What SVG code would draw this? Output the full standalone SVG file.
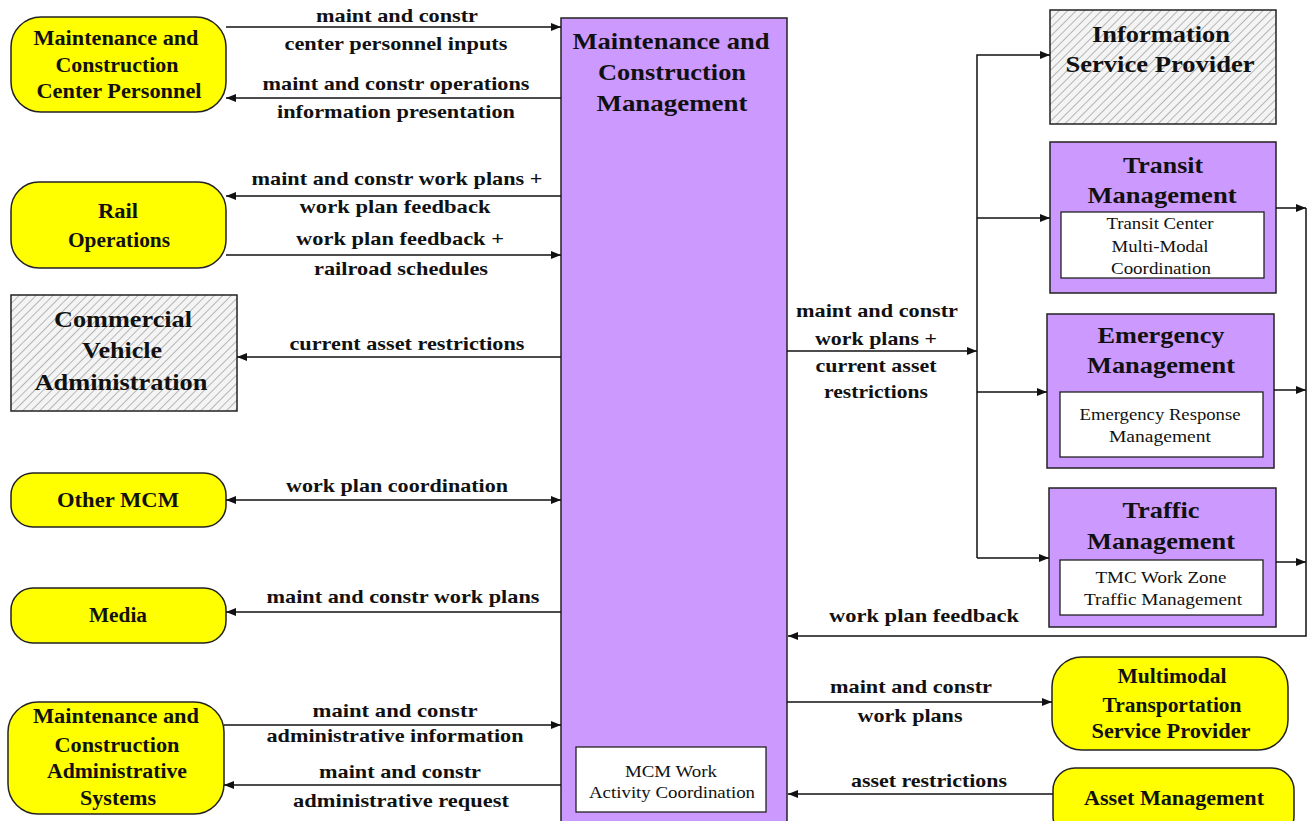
<svg xmlns="http://www.w3.org/2000/svg" width="1307" height="821" viewBox="0 0 1307 821" font-family="'Liberation Serif', 'DejaVu Serif', serif">
<defs>
<pattern id="hatch" width="6" height="6" patternUnits="userSpaceOnUse" patternTransform="rotate(45)">
<rect width="6" height="6" fill="#f4f4f4"/>
<line x1="0" y1="0" x2="0" y2="6" stroke="#9a9a9a" stroke-width="1.4"/>
</pattern>
<marker id="arr" viewBox="0 0 10 10" refX="10" refY="5" markerWidth="10" markerHeight="10" markerUnits="userSpaceOnUse" orient="auto-start-reverse">
<path d="M0,1 L10,5 L0,9 Z" fill="#111"/>
</marker>
<style>
.y{fill:#ffff00;stroke:#222;stroke-width:1.5}
.p{fill:#cc99ff;stroke:#222;stroke-width:1.5}
.h{fill:url(#hatch);stroke:#222;stroke-width:1.5}
.w{fill:#fff;stroke:#222;stroke-width:1.3}
text{font-family:'Liberation Serif','DejaVu Serif',serif;fill:#111;text-anchor:middle}
.t{font-weight:bold}
.n{font-size:20px}
.b{font-size:24px}
.s{font-size:16px}
.l{font-weight:bold;font-size:19px}
.c{fill:none;stroke:#111;stroke-width:1.5}
</style>
</defs>
<rect width="1307" height="821" fill="#fff"/>

<g id="mcm">
<rect class="p" x="561" y="18" width="226" height="810"/>
<text class="t" font-size="23" x="671" y="49" textLength="197" lengthAdjust="spacingAndGlyphs">Maintenance and</text>
<text class="t" font-size="23" x="672" y="80" textLength="148" lengthAdjust="spacingAndGlyphs">Construction</text>
<text class="t" font-size="23" x="672" y="111" textLength="151" lengthAdjust="spacingAndGlyphs">Management</text>
<rect class="w" x="576" y="747" width="190" height="65"/>
<text class="s" x="671" y="777" textLength="92" lengthAdjust="spacingAndGlyphs">MCM Work</text>
<text class="s" x="672" y="798" textLength="166" lengthAdjust="spacingAndGlyphs">Activity Coordination</text>
</g>

<g id="mccp">
<rect class="y" x="11" y="17" width="215" height="95" rx="30"/>
<text class="t n" x="116" y="45" textLength="165" lengthAdjust="spacingAndGlyphs">Maintenance and</text>
<text class="t n" x="117" y="72" textLength="123" lengthAdjust="spacingAndGlyphs">Construction</text>
<text class="t n" x="119" y="98" textLength="165" lengthAdjust="spacingAndGlyphs">Center Personnel</text>
</g>
<g id="rail">
<rect class="y" x="11" y="182" width="215" height="86" rx="28"/>
<text class="t n" x="118" y="218" textLength="40" lengthAdjust="spacingAndGlyphs">Rail</text>
<text class="t n" x="119" y="247" textLength="102" lengthAdjust="spacingAndGlyphs">Operations</text>
</g>
<g id="cva">
<rect class="h" x="11" y="295" width="226" height="116"/>
<text class="t b" x="123" y="327" textLength="138" lengthAdjust="spacingAndGlyphs">Commercial</text>
<text class="t b" x="122" y="358" textLength="80" lengthAdjust="spacingAndGlyphs">Vehicle</text>
<text class="t b" x="121" y="390" textLength="173" lengthAdjust="spacingAndGlyphs">Administration</text>
</g>
<g id="othermcm">
<rect class="y" x="11" y="473" width="215" height="54" rx="22"/>
<text class="t n" x="118" y="507" textLength="122" lengthAdjust="spacingAndGlyphs">Other MCM</text>
</g>
<g id="media">
<rect class="y" x="11" y="588" width="215" height="55" rx="22"/>
<text class="t n" x="118" y="622" textLength="58" lengthAdjust="spacingAndGlyphs">Media</text>
</g>
<g id="mcas">
<rect class="y" x="8" y="702" width="216" height="112" rx="30"/>
<text class="t n" x="116" y="723" textLength="166" lengthAdjust="spacingAndGlyphs">Maintenance and</text>
<text class="t n" x="117" y="752" textLength="125" lengthAdjust="spacingAndGlyphs">Construction</text>
<text class="t n" x="117" y="778" textLength="140" lengthAdjust="spacingAndGlyphs">Administrative</text>
<text class="t n" x="118" y="805" textLength="76" lengthAdjust="spacingAndGlyphs">Systems</text>
</g>

<g id="isp">
<rect class="h" x="1050" y="10" width="226" height="114"/>
<text class="t b" x="1161" y="42" textLength="138" lengthAdjust="spacingAndGlyphs">Information</text>
<text class="t b" x="1160" y="72" textLength="189" lengthAdjust="spacingAndGlyphs">Service Provider</text>
</g>
<g id="transit">
<rect class="p" x="1050" y="142" width="226" height="151"/>
<text class="t b" x="1163" y="173" textLength="80" lengthAdjust="spacingAndGlyphs">Transit</text>
<text class="t b" x="1162" y="203" textLength="149" lengthAdjust="spacingAndGlyphs">Management</text>
<rect class="w" x="1061" y="212" width="203" height="66"/>
<text class="s" x="1160" y="229" textLength="107" lengthAdjust="spacingAndGlyphs">Transit Center</text>
<text class="s" x="1160" y="252" textLength="97" lengthAdjust="spacingAndGlyphs">Multi-Modal</text>
<text class="s" x="1161" y="274" textLength="100" lengthAdjust="spacingAndGlyphs">Coordination</text>
</g>
<g id="emergency">
<rect class="p" x="1047" y="314" width="227" height="154"/>
<text class="t b" x="1161" y="343" textLength="127" lengthAdjust="spacingAndGlyphs">Emergency</text>
<text class="t b" x="1161" y="373" textLength="148" lengthAdjust="spacingAndGlyphs">Management</text>
<rect class="w" x="1060" y="392" width="203" height="65"/>
<text class="s" x="1160" y="420" textLength="161" lengthAdjust="spacingAndGlyphs">Emergency Response</text>
<text class="s" x="1160" y="442" textLength="102" lengthAdjust="spacingAndGlyphs">Management</text>
</g>
<g id="traffic">
<rect class="p" x="1049" y="488" width="227" height="139"/>
<text class="t b" x="1161" y="518" textLength="77" lengthAdjust="spacingAndGlyphs">Traffic</text>
<text class="t b" x="1161" y="549" textLength="148" lengthAdjust="spacingAndGlyphs">Management</text>
<rect class="w" x="1060" y="560" width="203" height="55"/>
<text class="s" x="1161" y="583" textLength="131" lengthAdjust="spacingAndGlyphs">TMC Work Zone</text>
<text class="s" x="1163" y="605" textLength="158" lengthAdjust="spacingAndGlyphs">Traffic Management</text>
</g>
<g id="mtsp">
<rect class="y" x="1052" y="657" width="236" height="93" rx="30"/>
<text class="t n" x="1172" y="683" textLength="109" lengthAdjust="spacingAndGlyphs">Multimodal</text>
<text class="t n" x="1172" y="712" textLength="139" lengthAdjust="spacingAndGlyphs">Transportation</text>
<text class="t n" x="1171" y="738" textLength="159" lengthAdjust="spacingAndGlyphs">Service Provider</text>
</g>
<g id="asset">
<rect class="y" x="1053" y="768" width="241" height="70" rx="22"/>
<text class="t n" x="1174" y="805" textLength="180" lengthAdjust="spacingAndGlyphs">Asset Management</text>
</g>

<g id="connectors">
<line class="c" x1="226" y1="27" x2="561" y2="27" marker-end="url(#arr)"/>
<line class="c" x1="561" y1="98" x2="226" y2="98" marker-end="url(#arr)"/>
<line class="c" x1="561" y1="196" x2="226" y2="196" marker-end="url(#arr)"/>
<line class="c" x1="226" y1="255" x2="561" y2="255" marker-end="url(#arr)"/>
<line class="c" x1="561" y1="357" x2="237" y2="357" marker-end="url(#arr)"/>
<line class="c" x1="226" y1="500" x2="561" y2="500" marker-start="url(#arr)" marker-end="url(#arr)"/>
<line class="c" x1="561" y1="612" x2="226" y2="612" marker-end="url(#arr)"/>
<line class="c" x1="224" y1="725" x2="561" y2="725" marker-end="url(#arr)"/>
<line class="c" x1="561" y1="785" x2="224" y2="785" marker-end="url(#arr)"/>
<line class="c" x1="787" y1="351" x2="977" y2="351" marker-end="url(#arr)"/>
<polyline class="c" points="977,558 977,55 1050,55" marker-end="url(#arr)"/>
<line class="c" x1="977" y1="218" x2="1050" y2="218" marker-end="url(#arr)"/>
<line class="c" x1="977" y1="392" x2="1047" y2="392" marker-end="url(#arr)"/>
<line class="c" x1="977" y1="558" x2="1049" y2="558" marker-end="url(#arr)"/>
<line class="c" x1="1276" y1="208" x2="1306" y2="208" marker-end="url(#arr)"/>
<line class="c" x1="1274" y1="390" x2="1306" y2="390" marker-end="url(#arr)"/>
<line class="c" x1="1276" y1="562" x2="1306" y2="562" marker-end="url(#arr)"/>
<polyline class="c" points="1306,208 1306,636 788,636" marker-end="url(#arr)"/>
<line class="c" x1="787" y1="702" x2="1052" y2="702" marker-end="url(#arr)"/>
<line class="c" x1="1053" y1="794" x2="788" y2="794" marker-end="url(#arr)"/>

<text class="l" x="397" y="22" textLength="162" lengthAdjust="spacingAndGlyphs">maint and constr</text>
<text class="l" x="396" y="50" textLength="223" lengthAdjust="spacingAndGlyphs">center personnel inputs</text>
<text class="l" x="396" y="90" textLength="267" lengthAdjust="spacingAndGlyphs">maint and constr operations</text>
<text class="l" x="396" y="118" textLength="238" lengthAdjust="spacingAndGlyphs">information presentation</text>
<text class="l" x="397" y="185" textLength="291" lengthAdjust="spacingAndGlyphs">maint and constr work plans +</text>
<text class="l" x="395" y="213" textLength="191" lengthAdjust="spacingAndGlyphs">work plan feedback</text>
<text class="l" x="400" y="245" textLength="208" lengthAdjust="spacingAndGlyphs">work plan feedback +</text>
<text class="l" x="401" y="275" textLength="174" lengthAdjust="spacingAndGlyphs">railroad schedules</text>
<text class="l" x="407" y="350" textLength="235" lengthAdjust="spacingAndGlyphs">current asset restrictions</text>
<text class="l" x="397" y="492" textLength="222" lengthAdjust="spacingAndGlyphs">work plan coordination</text>
<text class="l" x="403" y="603" textLength="273" lengthAdjust="spacingAndGlyphs">maint and constr work plans</text>
<text class="l" x="395" y="717" textLength="165" lengthAdjust="spacingAndGlyphs">maint and constr</text>
<text class="l" x="395" y="742" textLength="257" lengthAdjust="spacingAndGlyphs">administrative information</text>
<text class="l" x="400" y="778" textLength="162" lengthAdjust="spacingAndGlyphs">maint and constr</text>
<text class="l" x="401" y="807" textLength="216" lengthAdjust="spacingAndGlyphs">administrative request</text>
<text class="l" x="877" y="317" textLength="162" lengthAdjust="spacingAndGlyphs">maint and constr</text>
<text class="l" x="876" y="345" textLength="122" lengthAdjust="spacingAndGlyphs">work plans +</text>
<text class="l" x="876" y="372" textLength="121" lengthAdjust="spacingAndGlyphs">current asset</text>
<text class="l" x="876" y="398" textLength="104" lengthAdjust="spacingAndGlyphs">restrictions</text>
<text class="l" x="924" y="622" textLength="190" lengthAdjust="spacingAndGlyphs">work plan feedback</text>
<text class="l" x="911" y="693" textLength="162" lengthAdjust="spacingAndGlyphs">maint and constr</text>
<text class="l" x="910" y="722" textLength="105" lengthAdjust="spacingAndGlyphs">work plans</text>
<text class="l" x="929" y="787" textLength="156" lengthAdjust="spacingAndGlyphs">asset restrictions</text>
</g>
</svg>
